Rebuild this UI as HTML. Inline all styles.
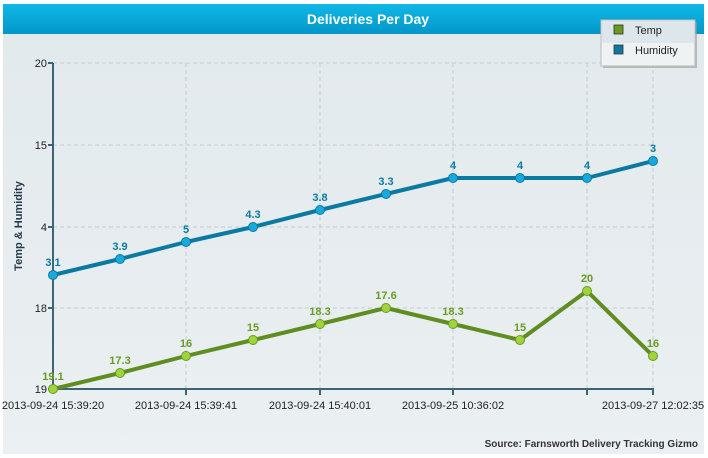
<!DOCTYPE html>
<html><head><meta charset="utf-8"><style>
body{margin:0;background:#fff;width:708px;height:458px;overflow:hidden}
svg{display:block;font-family:"Liberation Sans",sans-serif}
</style></head><body>
<svg width="708" height="458" viewBox="0 0 708 458">
<defs>
<linearGradient id="tb" x1="0" y1="0" x2="0" y2="1"><stop offset="0" stop-color="#0fb8e6"/><stop offset="1" stop-color="#0397c9"/></linearGradient>
<linearGradient id="bg" x1="0" y1="0" x2="0" y2="1"><stop offset="0" stop-color="#e2e9ec"/><stop offset="1" stop-color="#ebf0f2"/></linearGradient>
</defs>
<rect x="3" y="4" width="701" height="450" fill="url(#bg)"/>
<rect x="3" y="4" width="701" height="30" fill="url(#tb)"/>
<text x="368" y="24" text-anchor="middle" fill="#fff" font-size="14" font-weight="bold">Deliveries Per Day</text>
<g stroke="#c4ccd0" stroke-dasharray="4,3" stroke-width="1">
<line x1="53" y1="63" x2="653" y2="63"/><line x1="53" y1="145" x2="653" y2="145"/><line x1="53" y1="227" x2="653" y2="227"/><line x1="53" y1="308" x2="653" y2="308"/>
<line x1="186" y1="63" x2="186" y2="389"/><line x1="320" y1="63" x2="320" y2="389"/><line x1="453" y1="63" x2="453" y2="389"/><line x1="587" y1="63" x2="587" y2="389"/><line x1="653" y1="63" x2="653" y2="389"/>
</g>
<g stroke="#3d6475" stroke-width="2" fill="none">
<line x1="53" y1="63" x2="53" y2="390"/><line x1="52" y1="389" x2="654" y2="389"/>
<line x1="48" y1="63" x2="53" y2="63"/><line x1="48" y1="145" x2="53" y2="145"/><line x1="48" y1="227" x2="53" y2="227"/><line x1="48" y1="308" x2="53" y2="308"/><line x1="48" y1="389" x2="53" y2="389"/>
<line x1="186" y1="389" x2="186" y2="395"/><line x1="320" y1="389" x2="320" y2="395"/><line x1="453" y1="389" x2="453" y2="395"/><line x1="587" y1="389" x2="587" y2="395"/><line x1="653" y1="389" x2="653" y2="395"/>
</g>
<g font-size="11" fill="#222" text-anchor="end">
<text x="47" y="67">20</text><text x="47" y="149">15</text><text x="47" y="231">4</text><text x="47" y="312">18</text><text x="47" y="393">19</text>
</g>
<g font-size="11" fill="#222" text-anchor="middle">
<text x="53" y="409">2013-09-24 15:39:20</text><text x="186" y="409">2013-09-24 15:39:41</text><text x="320" y="409">2013-09-24 15:40:01</text><text x="453" y="409">2013-09-25 10:36:02</text><text x="653" y="409">2013-09-27 12:02:35</text>
</g>
<text transform="translate(22,226) rotate(-90)" text-anchor="middle" font-size="11" font-weight="bold" fill="#253a4a">Temp &amp; Humidity</text>
<polyline points="53,275 120,259 186,242 253,227 320,210 386,194 453,178 520,178 587,178 653,161" fill="none" stroke="#0b7aa1" stroke-width="4" stroke-linejoin="round"/>
<g fill="#19a9dc" stroke="#0b7aa1" stroke-width="1">
<circle cx="53" cy="275" r="4.5"/><circle cx="120" cy="259" r="4.5"/><circle cx="186" cy="242" r="4.5"/><circle cx="253" cy="227" r="4.5"/><circle cx="320" cy="210" r="4.5"/><circle cx="386" cy="194" r="4.5"/><circle cx="453" cy="178" r="4.5"/><circle cx="520" cy="178" r="4.5"/><circle cx="587" cy="178" r="4.5"/><circle cx="653" cy="161" r="4.5"/>
</g>
<g font-size="11" font-weight="bold" fill="#0b7aa1" text-anchor="middle">
<text x="53" y="266">3.1</text><text x="120" y="250">3.9</text><text x="186" y="233">5</text><text x="253" y="218">4.3</text><text x="320" y="201">3.8</text><text x="386" y="185">3.3</text><text x="453" y="169">4</text><text x="520" y="169">4</text><text x="587" y="169">4</text><text x="653" y="152">3</text>
</g>
<polyline points="53,389 120,373 186,356 253,340 320,324 386,308 453,324 520,340 587,291 653,356" fill="none" stroke="#5f8d1f" stroke-width="4" stroke-linejoin="round"/>
<g fill="#9fd43c" stroke="#6c9a25" stroke-width="1">
<circle cx="53" cy="389" r="4.5"/><circle cx="120" cy="373" r="4.5"/><circle cx="186" cy="356" r="4.5"/><circle cx="253" cy="340" r="4.5"/><circle cx="320" cy="324" r="4.5"/><circle cx="386" cy="308" r="4.5"/><circle cx="453" cy="324" r="4.5"/><circle cx="520" cy="340" r="4.5"/><circle cx="587" cy="291" r="4.5"/><circle cx="653" cy="356" r="4.5"/>
</g>
<g font-size="11" font-weight="bold" fill="#6c9a25" text-anchor="middle">
<text x="53" y="380">19.1</text><text x="120" y="364">17.3</text><text x="186" y="347">16</text><text x="253" y="331">15</text><text x="320" y="315">18.3</text><text x="386" y="299">17.6</text><text x="453" y="315">18.3</text><text x="520" y="331">15</text><text x="587" y="282">20</text><text x="653" y="347">16</text>
</g>
<text x="698" y="447" text-anchor="end" font-size="10" font-weight="bold" fill="#333">Source: Farnsworth Delivery Tracking Gizmo</text>
<rect x="603" y="22" width="94" height="46" fill="#999" opacity="0.6"/>
<rect x="601" y="20" width="94" height="46" fill="#eef2f3" stroke="#bbb"/>
<rect x="602" y="21" width="92" height="22" fill="#dde6ea"/>
<rect x="614" y="25" width="9" height="9" fill="#6c9a1e" stroke="#333" stroke-width="0.8"/>
<text x="635" y="34" font-size="11" fill="#222">Temp</text>
<rect x="614" y="45" width="9" height="9" fill="#0b7aa1" stroke="#333" stroke-width="0.8"/>
<text x="635" y="54" font-size="11" fill="#222">Humidity</text>
</svg>
</body></html>
